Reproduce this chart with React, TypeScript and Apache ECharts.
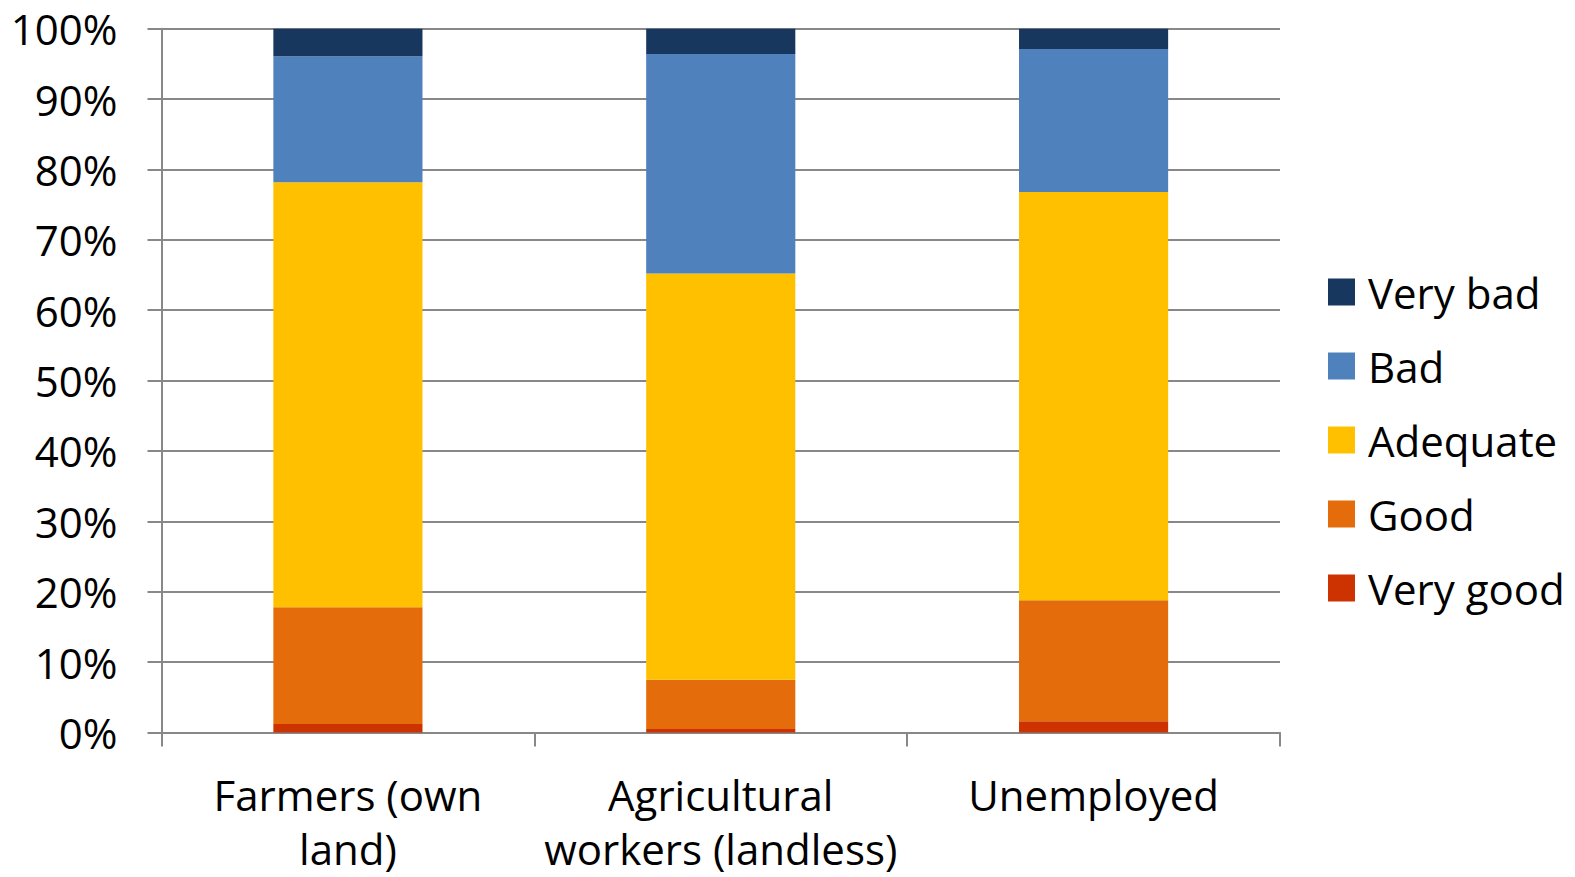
import React, { useEffect, useRef } from "react";
import * as echarts from "echarts";

const categories = ["Farmers (own\nland)", "Agricultural\nworkers (landless)", "Unemployed"];
const seriesNames = ["Very good", "Good", "Adequate", "Bad", "Very bad"];
const veryGood = [1.2, 0.5, 1.6];
const good = [16.6, 7.0, 17.2];
const adequate = [60.4, 57.7, 58.0];
const bad = [17.9, 31.2, 20.3];
const veryBad = [3.9, 3.6, 2.9];
const colors = ["#CC3300", "#E46C0A", "#FFC000", "#4F81BD", "#17375E"];
const legendOrder = ["Very bad", "Bad", "Adequate", "Good", "Very good"];

const FONT = "Open Sans";

export default function App() {
  const ref = useRef<HTMLDivElement>(null);
  useEffect(() => {
    if (!ref.current) return;
    const chart = echarts.init(ref.current, undefined, { renderer: "svg" });
    const values = [veryGood, good, adequate, bad, veryBad];
    chart.setOption({
      animation: false,
      textStyle: { fontFamily: FONT },
      grid: { left: 161.5, right: 295, top: 28.7, bottom: 144.5, containLabel: false, outerBoundsMode: "none" },
      legend: {
        orient: "vertical",
        left: 1323,
        top: 266,
        itemWidth: 27,
        itemHeight: 27,
        itemGap: 32,
        icon: "rect",
        data: legendOrder,
        textStyle: { fontSize: 42, lineHeight: 42, color: "#000", fontFamily: FONT, padding: [0, 0, 0, 8] },
      },
      xAxis: {
        type: "category",
        data: categories,
        axisLine: { lineStyle: { color: "#888", width: 2 } },
        axisTick: { show: true, interval: 0, length: 14, lineStyle: { color: "#888", width: 2 } },
        axisLabel: { interval: 0, fontSize: 42, color: "#000", lineHeight: 54, margin: 35, fontFamily: FONT },
      },
      yAxis: {
        type: "value",
        min: 0,
        max: 100,
        interval: 10,
        axisLine: { show: true, lineStyle: { color: "#888", width: 2 } },
        axisTick: { show: true, length: 14, lineStyle: { color: "#888", width: 2 } },
        splitLine: { lineStyle: { color: "#888", width: 2 } },
        axisLabel: { formatter: "{value}%", fontSize: 42, color: "#000", margin: 44, fontFamily: FONT },
      },
      series: seriesNames.map((name, i) => ({
        name,
        type: "bar",
        stack: "total",
        barWidth: "40%",
        data: values[i],
        itemStyle: { color: colors[i] },
      })),
    });
    return () => chart.dispose();
  }, []);
  return (
    <div
      ref={ref}
      style={{ position: "fixed", left: 0, top: 0, width: 1575, height: 877, background: "#fff" }}
    />
  );
}
